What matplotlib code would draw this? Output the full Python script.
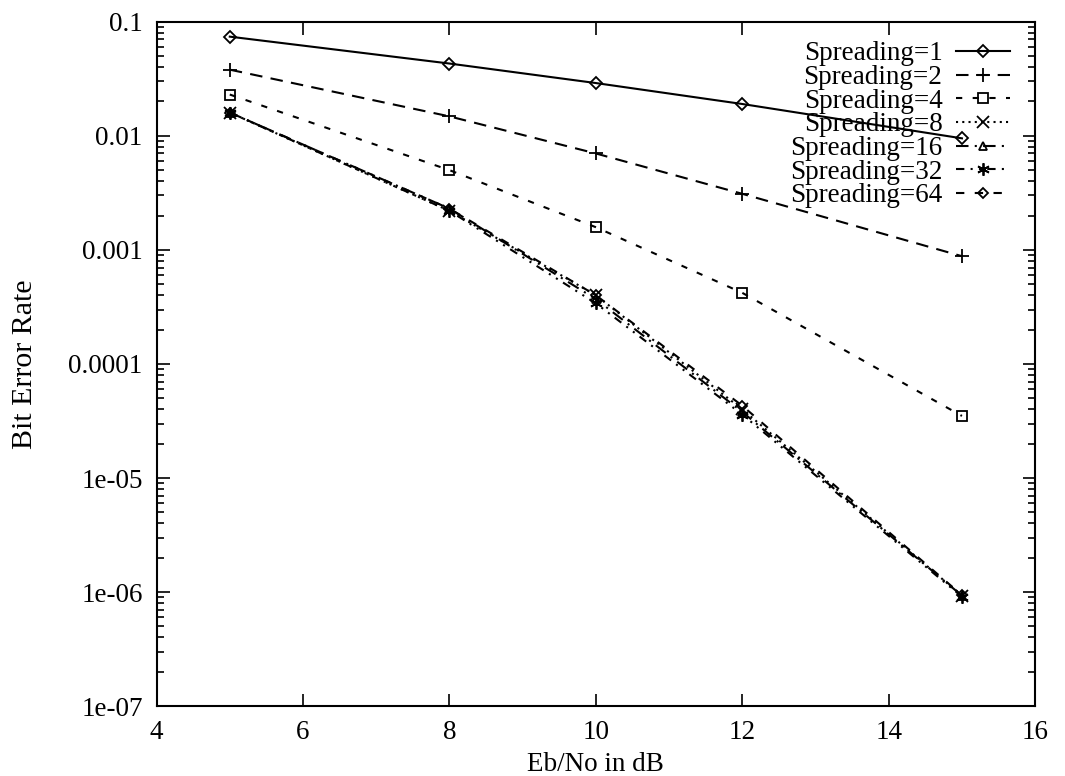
import matplotlib
matplotlib.use("Agg")
import matplotlib.pyplot as plt
from matplotlib.ticker import LogLocator, FixedLocator, NullFormatter

plt.rcParams['font.family'] = ['Liberation Serif', 'DejaVu Serif']

ebno = [5, 8, 10, 12, 15]
labels = ["Spreading=1", "Spreading=2", "Spreading=4", "Spreading=8",
          "Spreading=16", "Spreading=32", "Spreading=64"]
ber_1 = [0.074, 0.043, 0.029, 0.019, 0.0095]
ber_2 = [0.038, 0.0148, 0.0070, 0.0031, 0.00088]
ber_4 = [0.023, 0.0050, 0.00158, 0.00042, 3.5e-5]
ber_8 = [0.016, 0.0022, 0.00040, 4.0e-5, 9.3e-7]
ber_16 = [0.016, 0.0023, 0.00037, 3.8e-5, 9.3e-7]
ber_32 = [0.016, 0.0022, 0.00034, 3.6e-5, 9.1e-7]
ber_64 = [0.016, 0.0023, 0.00040, 4.3e-5, 9.4e-7]
series = [ber_1, ber_2, ber_4, ber_8, ber_16, ber_32, ber_64]

markers = ['D', '+', 's', 'x', '^', (6, 2, 0), 'D']
msizes = [6, 10, 7, 8, 6, 9, 5]
styles = ['-', (0, (6, 4)), (0, (3, 5)), (0, (1, 2)), (0, (6, 3, 1, 3)),
          (0, (4, 3, 1, 3, 1, 3)), (0, (4, 5))]

fig = plt.figure(figsize=(10.65, 7.76), dpi=100)
ax = fig.add_axes([0.147, 0.090, 0.825, 0.882])

for vals, lab, m, ms, ls in zip(series, labels, markers, msizes, styles):
    ax.plot(ebno, vals, color='black', linestyle=ls, linewidth=1.5,
            marker=m, markersize=ms, markerfacecolor='none',
            markeredgecolor='black', markeredgewidth=1.3, label=lab)

ax.set_yscale('log')
ax.set_xlim(4, 16)
ax.set_ylim(1e-7, 0.1)
ax.xaxis.set_major_locator(FixedLocator([4, 6, 8, 10, 12, 14, 16]))
ax.yaxis.set_minor_locator(LogLocator(base=10, subs=range(2, 10), numticks=50))
ax.yaxis.set_minor_formatter(NullFormatter())
ax.set_yticks([1e-7, 1e-6, 1e-5, 1e-4, 1e-3, 1e-2, 1e-1])
ax.set_yticklabels(["1e-07", "1e-06", "1e-05", "0.0001", "0.001", "0.01", "0.1"])
ax.tick_params(which='both', direction='in', top=True, right=True,
               labelsize=19.5, width=1.2)
ax.tick_params(which='major', length=9, pad=10)
ax.tick_params(which='minor', length=5)
for sp in ax.spines.values():
    sp.set_linewidth(1.5)

ax.set_xlabel("Eb/No in dB", fontsize=19.5, labelpad=5)
ax.set_ylabel("Bit Error Rate", fontsize=21.5, labelpad=22)

leg = ax.legend(loc='upper right', frameon=False, markerfirst=False,
                fontsize=19.5, handlelength=2.0, handletextpad=0.5,
                labelspacing=-0.05, borderaxespad=0.2,
                bbox_to_anchor=(0.99, 0.995))

fig.savefig("out.png", dpi=100)
